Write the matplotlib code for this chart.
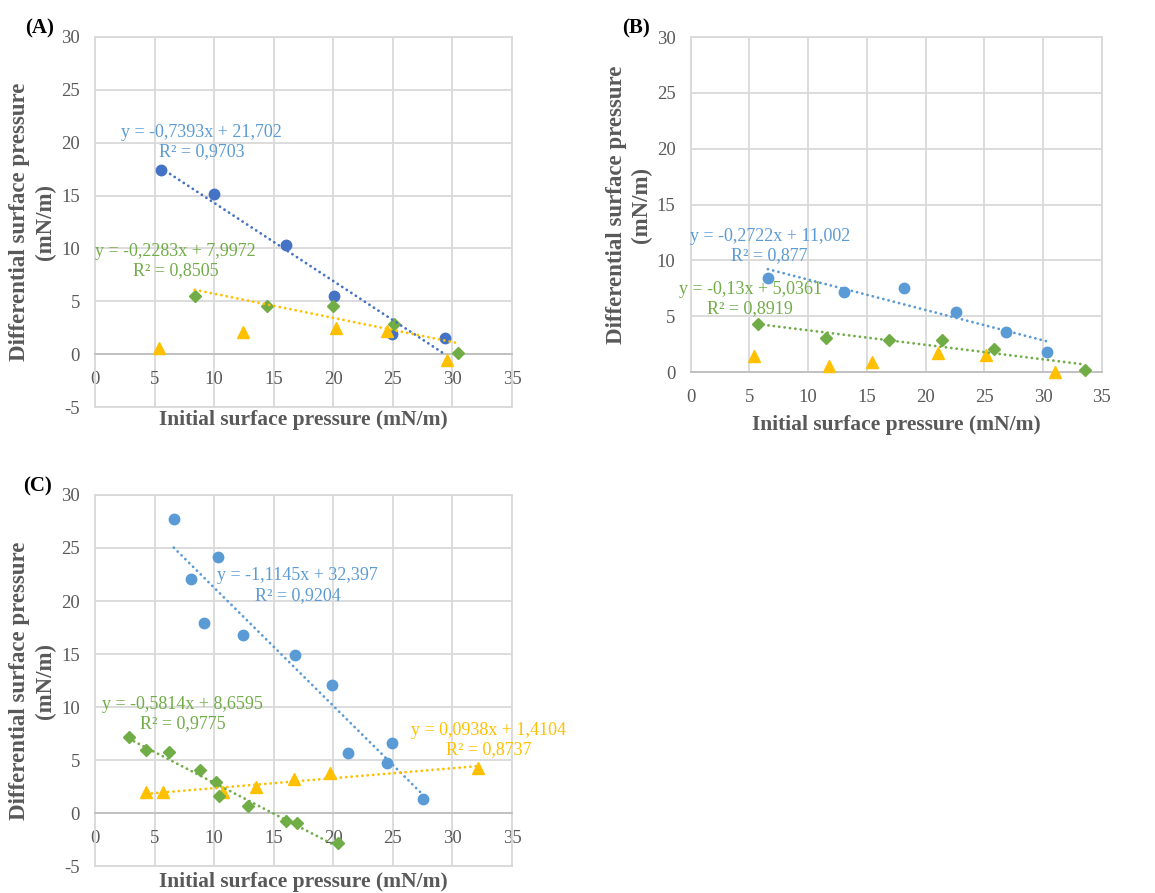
import numpy as np
import matplotlib
matplotlib.use("Agg")
import matplotlib.pyplot as plt

plt.rcParams['font.family'] = ['Liberation Serif', 'DejaVu Serif']
plt.rcParams['axes.unicode_minus'] = False

# Panel A
a_blue_x = [5.54, 9.97, 15.99, 20.02, 24.95, 29.35]
a_blue_y = [17.38, 15.11, 10.28, 5.49, 1.89, 1.55]
a_green_x = [8.37, 14.45, 19.94, 25.06, 30.44]
a_green_y = [5.52, 4.54, 4.54, 2.87, 0.09]
a_gold_x = [5.35, 12.46, 20.19, 24.5, 29.54]
a_gold_y = [0.57, 2.08, 2.52, 2.15, -0.54]

# Panel B
b_blue_x = [6.57, 13.03, 18.14, 22.61, 26.81, 30.35]
b_blue_y = [8.44, 7.18, 7.54, 5.35, 3.59, 1.79]
b_green_x = [5.70, 11.5, 16.89, 21.37, 25.81, 33.55]
b_green_y = [4.28, 3.02, 2.87, 2.87, 2.03, 0.15]
b_gold_x = [5.36, 11.79, 15.42, 21.08, 25.16, 31.0]
b_gold_y = [1.41, 0.51, 0.87, 1.73, 1.53, 0.0]

# Panel C
c_blue_x = [6.61, 8.06, 10.3, 9.18, 12.46, 16.77, 19.88, 21.2, 24.92, 24.53, 27.5]
c_blue_y = [27.71, 22.12, 24.19, 17.88, 16.84, 14.89, 12.1, 5.65, 6.6, 4.71, 1.29]
c_green_x = [2.86, 4.28, 6.22, 8.77, 10.14, 10.42, 12.8, 15.99, 16.94, 20.39]
c_green_y = [7.13, 5.91, 5.72, 4.08, 2.92, 1.63, 0.63, -0.79, -0.97, -2.83]
c_gold_x = [4.31, 5.74, 10.7, 13.53, 16.66, 19.74, 32.12]
c_gold_y = [2.01, 1.95, 1.95, 2.45, 3.2, 3.77, 4.24]

# trendline coefficients (slope, intercept, r2)
a_fit_blue = (-0.7393, 21.702, 0.9703)
a_fit_green = (-0.2283, 7.9972, 0.8505)
b_fit_blue = (-0.2722, 11.002, 0.877)
b_fit_green = (-0.13, 5.0361, 0.8919)
c_fit_blue = (-1.1145, 32.397, 0.9204)
c_fit_green = (-0.5814, 8.6595, 0.9775)
c_fit_gold = (0.0938, 1.4104, 0.8737)

DBLUE = '#4472C4'
BLUE = '#5B9BD5'
GREEN = '#70AD47'
GOLD = '#FFC000'
GRID = '#D9D9D9'
AXIS = '#BFBFBF'
TXT = '#595959'


def fmt(v):
    return f'{v}'.replace('.', ',')


def eq_text(fit):
    m, b, r2 = fit
    sign = '+' if b >= 0 else '-'
    return f'y = {fmt(m)}x {sign} {fmt(abs(b))}\nR² = {fmt(r2)}'


def trend(ax, xs, fit, color):
    m, b, _ = fit
    x = np.array([min(xs), max(xs)])
    ax.plot(x, m * x + b, color=color, lw=2.0, linestyle=(0, (0.05, 1.9)),
            dash_capstyle='round', zorder=4)


def setup(ax, ymin, xlab_y):
    ax.set_xlim(0, 35)
    ax.set_ylim(ymin, 30)
    ax.set_xticks(np.arange(0, 36, 5))
    ax.set_yticks(np.arange(ymin, 31, 5))
    ax.grid(True, color=GRID, lw=1.3, zorder=0)
    ax.set_axisbelow(True)
    for s in ax.spines.values():
        s.set_color(GRID)
        s.set_linewidth(1.3)
    ax.spines['bottom'].set_position(('data', 0))
    ax.spines['bottom'].set_color(AXIS)
    ax.axhline(ymin, color=GRID, lw=1.3, clip_on=False, zorder=0.5)
    ax.tick_params(length=0, labelsize=13.5, labelcolor=TXT, pad=11)
    ax.tick_params(axis='x', pad=12)
    ax.text(-0.15, 0.5, 'Differential surface pressure\n(mN/m)', rotation=90,
            ha='center', va='center', multialignment='center', fontsize=16.5,
            fontweight='bold', color=TXT, linespacing=1.25, transform=ax.transAxes)
    ax.text(0.5, xlab_y, 'Initial surface pressure (mN/m)', ha='center', va='center',
            fontsize=15.5, fontweight='bold', color=TXT, transform=ax.transAxes)


def note(ax, x, y, fit, color):
    ax.text(x, y, eq_text(fit), ha='center', va='center', multialignment='center',
            fontsize=13, color=color, linespacing=1.2, transform=ax.transAxes,
            clip_on=False, zorder=6)


def scatter(ax, bx, by, gx, gy, tx, ty, bcol):
    ax.plot(bx, by, 'o', color=bcol, ms=7.5, zorder=3, clip_on=False)
    ax.plot(tx, ty, '^', color=GOLD, ms=9, zorder=3, clip_on=False)
    ax.plot(gx, gy, 'D', color=GREEN, ms=6, zorder=3, clip_on=False)


fig = plt.figure(figsize=(11.55, 8.93), dpi=100)
axA = fig.add_axes([0.0823, 0.5442, 0.361, 0.4144])
axB = fig.add_axes([0.598, 0.5834, 0.356, 0.375])
axC = fig.add_axes([0.0823, 0.0302, 0.361, 0.4155])

# (A)
setup(axA, -5, -0.035)
scatter(axA, a_blue_x, a_blue_y, a_green_x, a_green_y, a_gold_x, a_gold_y, DBLUE)
trend(axA, a_blue_x, a_fit_blue, DBLUE)
trend(axA, a_green_x, a_fit_green, GOLD)
note(axA, 0.255, 0.716, a_fit_blue, BLUE)
note(axA, 0.193, 0.395, a_fit_green, GREEN)

# (B)
setup(axB, 0, -0.158)
scatter(axB, b_blue_x, b_blue_y, b_green_x, b_green_y, b_gold_x, b_gold_y, BLUE)
trend(axB, b_blue_x, b_fit_blue, BLUE)
trend(axB, b_green_x, b_fit_green, GREEN)
note(axB, 0.192, 0.376, b_fit_blue, BLUE)
note(axB, 0.145, 0.218, b_fit_green, GREEN)

# (C)
setup(axC, -5, -0.043)
scatter(axC, c_blue_x, c_blue_y, c_green_x, c_green_y, c_gold_x, c_gold_y, BLUE)
trend(axC, c_blue_x, c_fit_blue, BLUE)
trend(axC, c_green_x, c_fit_green, GREEN)
trend(axC, c_gold_x, c_fit_gold, GOLD)
note(axC, 0.486, 0.756, c_fit_blue, BLUE)
note(axC, 0.21, 0.41, c_fit_green, GREEN)
note(axC, 0.944, 0.34, c_fit_gold, GOLD)

# panel letters
fig.text(40 / 1155, 1 - 28 / 893, '(A)', ha='center', va='center', fontsize=15, fontweight='bold')
fig.text(636 / 1155, 1 - 28 / 893, '(B)', ha='center', va='center', fontsize=15, fontweight='bold')
fig.text(37 / 1155, 1 - 486 / 893, '(C)', ha='center', va='center', fontsize=15, fontweight='bold')

fig.savefig('out.png', dpi=100)
